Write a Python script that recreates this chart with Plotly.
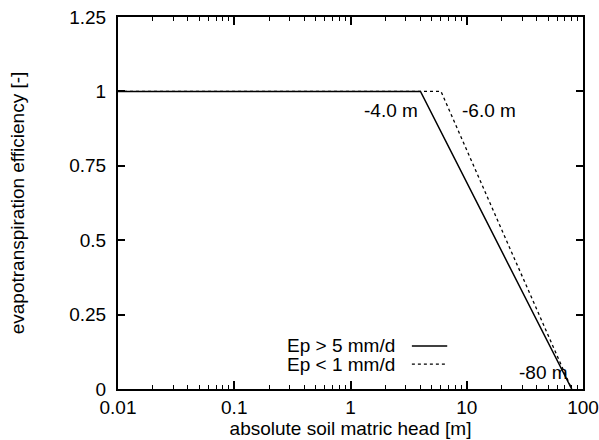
import plotly.graph_objects as go

# Data
head_fast = [0.01, 4.0, 80.0]   # Ep > 5 mm/d
eff_fast = [1.0, 1.0, 0.0]
head_slow = [0.01, 6.0, 80.0]   # Ep < 1 mm/d
eff_slow = [1.0, 1.0, 0.0]
legend_labels = ["Ep > 5 mm/d", "Ep < 1 mm/d"]
x_ticks = [0.01, 0.1, 1, 10, 100]
x_ticklabels = ["0.01", "0.1", "1", "10", "100"]
y_ticks = [0, 0.25, 0.5, 0.75, 1, 1.25]
y_ticklabels = ["0", "0.25", "0.5", "0.75", "1", "1.25"]

FONT = "Liberation Sans, Arial, sans-serif"
FS = 19

fig = go.Figure()
fig.add_trace(go.Scatter(x=head_slow, y=eff_slow, mode="lines",
                         line=dict(color="black", width=1.3, dash="3px,3px"),
                         name=legend_labels[1], showlegend=False))
fig.add_trace(go.Scatter(x=head_fast, y=eff_fast, mode="lines",
                         line=dict(color="black", width=1.5),
                         name=legend_labels[0], showlegend=False))

# labels at breakpoints
fig.add_annotation(x=0.60, y=0.935, xref="x", yref="y", text="-4.0 m",
                   showarrow=False, xanchor="right", font=dict(family=FONT, size=FS, color="black"))
fig.add_annotation(x=0.94, y=0.935, xref="x", yref="y", text="-6.0 m",
                   showarrow=False, xanchor="left", font=dict(family=FONT, size=FS, color="black"))
fig.add_annotation(x=1.89, y=0.057, xref="x", yref="y", text="-80 m",
                   showarrow=False, xanchor="right", font=dict(family=FONT, size=FS, color="black"))

# gnuplot-style key: text then line sample
key_y = [0.1156, 0.067]
for i, lab in enumerate(legend_labels):
    fig.add_annotation(x=0.599, y=key_y[i], xref="paper", yref="paper", text=lab,
                       showarrow=False, xanchor="right", yanchor="middle",
                       font=dict(family=FONT, size=FS, color="black"))
fig.add_shape(type="line", xref="paper", yref="paper", x0=0.632, x1=0.708,
              y0=key_y[0], y1=key_y[0], line=dict(color="black", width=1.5))
fig.add_shape(type="line", xref="paper", yref="paper", x0=0.632, x1=0.708,
              y0=key_y[1], y1=key_y[1], line=dict(color="black", width=1.3, dash="3px,3px"))

fig.update_layout(
    width=599, height=440,
    margin=dict(l=118, r=16, t=17, b=51),
    paper_bgcolor="white", plot_bgcolor="white",
    font=dict(family=FONT, size=FS, color="black"),
)
fig.update_xaxes(type="log", range=[-2, 2], tickvals=x_ticks, ticktext=x_ticklabels,
                 ticks="inside", ticklen=8, tickwidth=1.5, tickcolor="black",
                 showline=True, linecolor="black", linewidth=2, mirror="allticks",
                 showgrid=False, zeroline=False, automargin=False,
                 minor=dict(ticks="inside", ticklen=4, tickwidth=1, tickcolor="black",
                            showgrid=False, dtick="D1"),
                 title=dict(text="absolute soil matric head [m]", standoff=0,
                            font=dict(family=FONT, size=FS)),
                 tickfont=dict(family=FONT, size=FS))
fig.update_yaxes(range=[0, 1.25], tickvals=y_ticks, ticktext=y_ticklabels,
                 ticks="inside", ticklen=7, tickwidth=1.5, tickcolor="black",
                 showline=True, linecolor="black", linewidth=2, mirror="allticks",
                 showgrid=False, zeroline=False, automargin=False, ticklabelstandoff=6,
                 title=dict(text="evapotranspiration efficiency [-]", standoff=40,
                            font=dict(family=FONT, size=FS)),
                 tickfont=dict(family=FONT, size=FS))

fig.write_html("out.html", config={"displayModeBar": False},
               post_script="document.body.style.margin='0px';document.body.style.overflow='hidden';")
